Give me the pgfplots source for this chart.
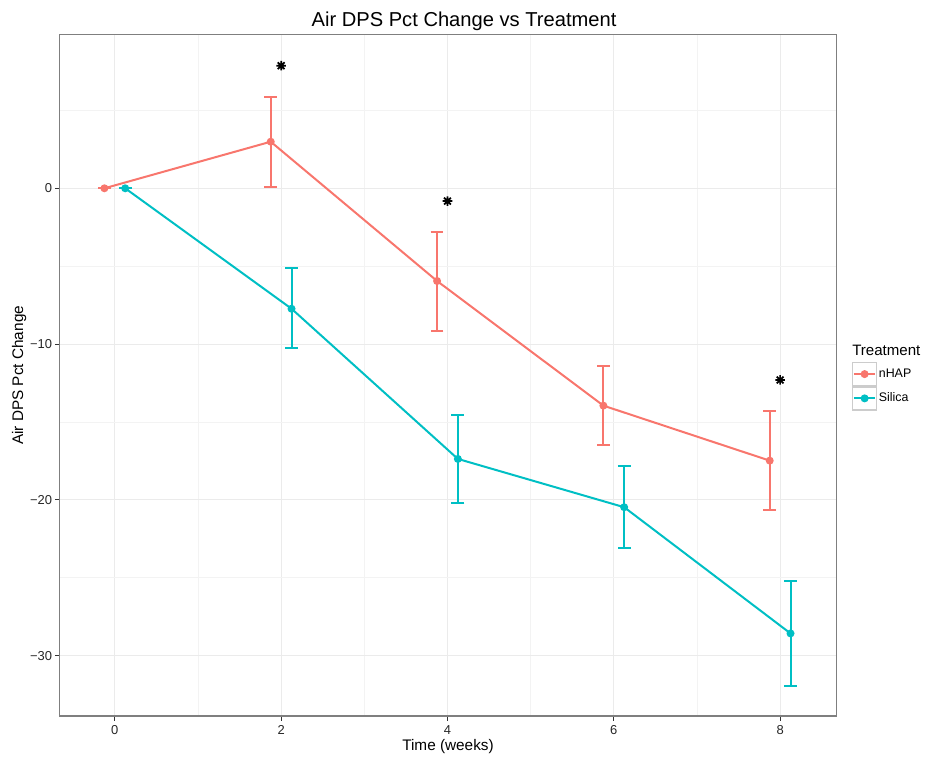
\documentclass[border=0pt]{standalone}
\usepackage{pgfplots}
\pgfplotsset{compat=1.18}
\usepackage{fontspec}
\setmainfont{Liberation Sans}
\definecolor{nhap}{HTML}{F8766D}
\definecolor{silica}{HTML}{00BFC4}
\definecolor{gridc}{HTML}{EBEBEB}
\definecolor{frame}{HTML}{7F7F7F}
\pgfdeclareplotmark{ast8}{%
  \pgfpathmoveto{\pgfqpoint{0pt}{\pgfplotmarksize}}\pgfpathlineto{\pgfqpoint{0pt}{-\pgfplotmarksize}}%
  \pgfpathmoveto{\pgfqpoint{\pgfplotmarksize}{0pt}}\pgfpathlineto{\pgfqpoint{-\pgfplotmarksize}{0pt}}%
  \pgfpathmoveto{\pgfqpoint{0.707\pgfplotmarksize}{0.707\pgfplotmarksize}}\pgfpathlineto{\pgfqpoint{-0.707\pgfplotmarksize}{-0.707\pgfplotmarksize}}%
  \pgfpathmoveto{\pgfqpoint{0.707\pgfplotmarksize}{-0.707\pgfplotmarksize}}\pgfpathlineto{\pgfqpoint{-0.707\pgfplotmarksize}{0.707\pgfplotmarksize}}%
  \pgfusepathqstroke}
\begin{document}
\begin{tikzpicture}
\path[use as bounding box] (-44.5pt,-31.5pt) rectangle (651.5pt,537pt);
\begin{axis}[
  scale only axis, width=583pt, height=511pt,
  xmin=-0.667, xmax=8.68, ymin=-33.87, ymax=9.86,
  xtick={0,2,4,6,8}, ytick={-30,-20,-10,0},
  yticklabels={−30,−20,−10,0},
  minor xtick={1,3,5,7}, minor ytick={-25,-15,-5,5},
  grid=both,
  major grid style={gridc, line width=0.8pt},
  minor grid style={gridc!60, line width=0.5pt},
  minor tick length=0pt, major tick length=3.4pt,
  tick align=outside, tick pos=left,
  tick style={black!80, line width=0.8pt},
  axis line style={frame, line width=0.9pt},
  /pgf/number format/assume math mode=true,
  tick label style={font=\fontsize{9.7}{11}\selectfont, text=black!85},
  yticklabel style={xshift=1.5pt},
  label style={font=\fontsize{11.5}{13}\selectfont},
  xlabel={Time (weeks)}, ylabel={Air DPS Pct Change},
  xlabel style={yshift=3pt}, ylabel style={yshift=-4pt},
  legend style={at={(1.0193,0.52)}, anchor=north west, draw=none, fill=none,
    font=\fontsize{9.3}{11}\selectfont, row sep=0pt, inner sep=0pt,
    nodes={inner sep=1.2pt}},
  legend cell align=left,
  legend image code/.code={
    \draw[gray!40, fill=white, line width=1pt] (0pt,-8.6pt) rectangle (18pt,8.6pt);
    \draw[#1, mark repeat=2, mark phase=2] plot coordinates {(1pt,0pt) (9pt,0pt) (17pt,0pt)};
  },
]
\addplot[nhap, line width=1.5pt, mark=*, mark size=2.2pt,
  error bars/.cd, y dir=both, y explicit,
  error bar style={line width=1.5pt, nhap},
  error mark options={mark size=4.8pt, line width=1.5pt, nhap, rotate=90}]
  coordinates {
  (-0.125,0) += (0,0) -= (0,0)
  (1.875,2.99) += (0,2.90) -= (0,2.91)
  (3.875,-5.95) += (0,3.13) -= (0,3.19)
  (5.875,-13.95) += (0,2.54) -= (0,2.53)
  (7.875,-17.48) += (0,3.19) -= (0,3.17)
};
\addlegendentry{nHAP}
\addplot[silica, line width=1.5pt, mark=*, mark size=2.2pt,
  error bars/.cd, y dir=both, y explicit,
  error bar style={line width=1.5pt, silica},
  error mark options={mark size=4.8pt, line width=1.5pt, silica, rotate=90}]
  coordinates {
  (0.125,0) += (0,0) -= (0,0)
  (2.125,-7.73) += (0,2.61) -= (0,2.52)
  (4.125,-17.37) += (0,2.82) -= (0,2.83)
  (6.125,-20.47) += (0,2.65) -= (0,2.60)
  (8.125,-28.57) += (0,3.37) -= (0,3.35)
};
\addlegendentry{Silica}
\addplot[only marks, black, mark=ast8, mark size=3.6pt, line width=1.3pt, forget plot]
  coordinates {(2,7.87) (4,-0.82) (8,-12.3)};
\end{axis}
\node[anchor=base west, font=\fontsize{11.3}{13}\selectfont, inner sep=0pt] at (594.5pt,270.2pt) {Treatment};
\node[font=\fontsize{15.1}{17}\selectfont] at (303.5pt,521pt) {Air DPS Pct Change vs Treatment};
\end{tikzpicture}
\end{document}
